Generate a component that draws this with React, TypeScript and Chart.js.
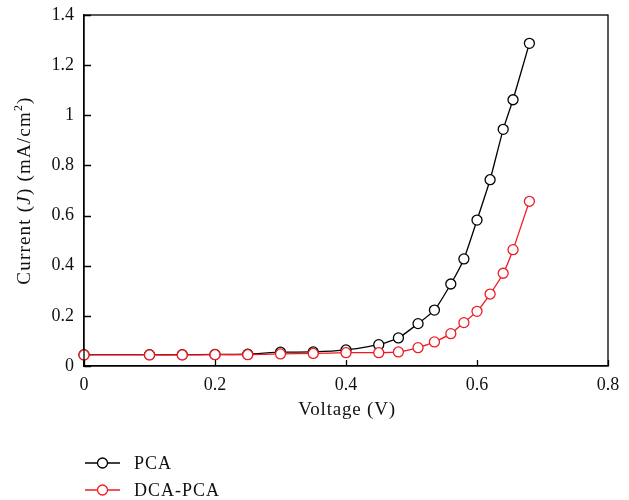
import React, { useEffect, useRef } from "react";
import { Chart, registerables } from "chart.js";

Chart.register(...registerables);

// ---- data ----
const voltage = [0, 0.1, 0.15, 0.2, 0.25, 0.3, 0.35, 0.4, 0.45, 0.48, 0.51, 0.535, 0.56, 0.58, 0.6, 0.62, 0.64, 0.655, 0.68];
const pcaCurrent = [0.045, 0.045, 0.045, 0.046, 0.047, 0.055, 0.056, 0.064, 0.085, 0.112, 0.169, 0.223, 0.327, 0.427, 0.582, 0.743, 0.944, 1.062, 1.287];
const dcaPcaCurrent = [0.044, 0.044, 0.044, 0.045, 0.045, 0.048, 0.05, 0.053, 0.053, 0.056, 0.073, 0.096, 0.129, 0.173, 0.218, 0.287, 0.37, 0.464, 0.657];
const seriesLabels = ["PCA", "DCA-PCA"];
const seriesColors = ["#000000", "#ed1c24"];
const xTicks = [0, 0.2, 0.4, 0.6, 0.8];
const yTicks = [0, 0.2, 0.4, 0.6, 0.8, 1.0, 1.2, 1.4];
const xTitle = "Voltage (V)";
// y title pieces: [text, style]
const yTitleParts: [string, string][] = [
  ["Current (", "normal"],
  ["J", "italic"],
  [") (mA/cm", "normal"],
  ["2", "sup"],
  [")", "normal"],
];

const FONT = "'Liberation Serif', 'Times New Roman', serif";
const FS = 18;

const fmt = (v: number) => String(Number(v.toFixed(2)));

const framePlugin = {
  id: "framePlugin",
  afterDraw(chart: any) {
    const { ctx, chartArea } = chart;
    const { left, right, top, bottom } = chartArea;
    const xs = chart.scales.x;
    const ys = chart.scales.y;
    ctx.save();
    ctx.strokeStyle = "#000";
    ctx.lineWidth = 1.3;
    ctx.strokeRect(left, top, right - left, bottom - top);
    // inward ticks
    ctx.beginPath();
    xTicks.forEach((v) => {
      const px = Math.round(xs.getPixelForValue(v)) + 0.5;
      ctx.moveTo(px, bottom);
      ctx.lineTo(px, bottom - 6);
    });
    yTicks.forEach((v) => {
      const py = Math.round(ys.getPixelForValue(v)) + 0.5;
      ctx.moveTo(left, py);
      ctx.lineTo(left + 7, py);
    });
    ctx.stroke();

    ctx.fillStyle = "#111";
    // x title
    ctx.save();
    (ctx as any).letterSpacing = "0.8px";
    ctx.font = `19px ${FONT}`;
    ctx.textAlign = "center";
    ctx.textBaseline = "middle";
    ctx.fillText(xTitle, (left + right) / 2 + 1, 410);
    ctx.restore();

    // y title
    ctx.save();
    (ctx as any).letterSpacing = "1.2px";
    ctx.translate(25, (top + bottom) / 2);
    ctx.rotate(-Math.PI / 2);
    ctx.fillStyle = "#111";
    ctx.textBaseline = "middle";
    ctx.textAlign = "left";
    const YS = 19;
    const fontFor = (s: string) =>
      s === "italic" ? `italic ${YS}px ${FONT}` : s === "sup" ? `${Math.round(YS * 0.65)}px ${FONT}` : `${YS}px ${FONT}`;
    let total = 0;
    yTitleParts.forEach(([t, s]) => {
      ctx.font = fontFor(s);
      total += ctx.measureText(t).width;
    });
    let x = -total / 2;
    yTitleParts.forEach(([t, s]) => {
      ctx.font = fontFor(s);
      ctx.fillText(t, x, s === "sup" ? -6 : 0);
      x += ctx.measureText(t).width;
    });
    ctx.restore();

    // legend
    const ds = chart.data.datasets;
    ds.forEach((d: any, i: number) => {
      const y = 463 + i * 27;
      ctx.strokeStyle = d.borderColor;
      ctx.lineWidth = 1.3;
      ctx.beginPath();
      ctx.moveTo(85, y);
      ctx.lineTo(120, y);
      ctx.stroke();
      ctx.beginPath();
      ctx.fillStyle = "#fff";
      ctx.arc(102.5, y, 5, 0, Math.PI * 2);
      ctx.fill();
      ctx.stroke();
      ctx.save();
      (ctx as any).letterSpacing = "1px";
      ctx.fillStyle = "#111";
      ctx.font = `${FS}px ${FONT}`;
      ctx.textBaseline = "middle";
      ctx.textAlign = "left";
      ctx.fillText(d.label, 134, y + 1);
      ctx.restore();
    });
    ctx.restore();
  },
};

export default function App() {
  const ref = useRef<HTMLCanvasElement>(null);
  useEffect(() => {
    if (!ref.current) return;
    const mk = (i: number, vals: number[], order: number) => ({
      label: seriesLabels[i],
      data: voltage.map((v, k) => ({ x: v, y: vals[k] })),
      borderColor: seriesColors[i],
      backgroundColor: "#ffffff",
      pointBackgroundColor: "#ffffff",
      pointBorderColor: seriesColors[i],
      pointRadius: 5,
      pointBorderWidth: 1.3,
      borderWidth: 1.3,
      tension: 0.15,
      clip: false as any,
      order,
    });
    const zeroPad = (s: any) => {
      s.paddingTop = 0;
      s.paddingBottom = 0;
      s.paddingLeft = 0;
      s.paddingRight = 0;
    };
    const chart = new Chart(ref.current, {
      type: "line",
      data: {
        datasets: [mk(0, pcaCurrent, 2), mk(1, dcaPcaCurrent, 1)],
      },
      options: {
        animation: false,
        responsive: false,
        layout: { padding: { left: 0, right: 21, top: 15, bottom: 74 } },
        plugins: { legend: { display: false }, tooltip: { enabled: false } },
        scales: {
          x: {
            type: "linear",
            min: 0,
            max: 0.8,
            afterBuildTicks: (s: any) => {
              s.ticks = xTicks.map((v) => ({ value: v }));
            },
            afterFit: (s: any) => {
              s.height = 60;
              zeroPad(s);
            },
            ticks: { padding: 8, color: "#111", font: { family: FONT, size: FS }, callback: (v: any) => fmt(Number(v)) },
            grid: { drawOnChartArea: false, drawTicks: false },
            border: { display: true, color: "#000", width: 1.3 },
            title: { display: false },
          },
          y: {
            type: "linear",
            min: 0,
            max: 1.4,
            afterBuildTicks: (s: any) => {
              s.ticks = yTicks.map((v) => ({ value: v }));
            },
            afterFit: (s: any) => {
              s.width = 84;
              zeroPad(s);
            },
            ticks: { padding: 10, color: "#111", font: { family: FONT, size: FS }, callback: (v: any) => fmt(Number(v)) },
            grid: { drawOnChartArea: false, drawTicks: false },
            border: { display: true, color: "#000", width: 1.3 },
          },
        },
      },
      plugins: [framePlugin],
    });
    return () => chart.destroy();
  }, []);
  return (
    <div style={{ position: "absolute", left: 0, top: 0, width: 629, height: 500, background: "#fff" }}>
      <canvas ref={ref} width={629} height={500} style={{ width: 629, height: 500, display: "block" }} />
    </div>
  );
}
